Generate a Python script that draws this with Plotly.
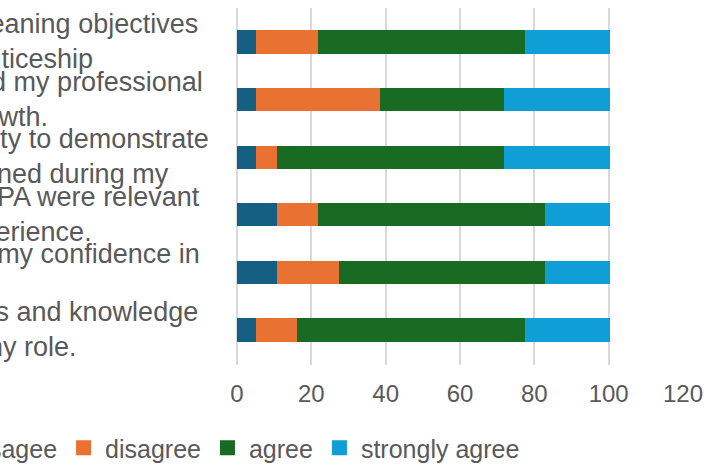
import plotly.graph_objects as go

# ---- data -------------------------------------------------------------
label_line1 = [
    "to reach my leaning objectives",
    "has supported my professional",
    "that opportunity to demonstrate",
    "tasks in the EPA were relevant",
    "helped boost my confidence in",
    "using my skills and knowledge",
]
label_line2 = [
    "for my apprenticeship",
    "and wider growth.",
    "core skills gained during my",
    "to my job experience.",
    "my abilities.",
    "each day in my role.",
]
categories = [a + " " + b for a, b in zip(label_line1, label_line2)]

series_names = ["strongly disagee", "disagree", "agree", "strongly agree"]
strongly_disagree = [5.56, 5.56, 5.56, 11.11, 11.11, 5.56]
disagree = [16.67, 33.33, 5.56, 11.11, 16.67, 11.11]
agree = [55.56, 33.33, 61.11, 61.11, 55.56, 61.11]
strongly_agree = [22.22, 27.78, 27.78, 16.67, 16.67, 22.22]
x_ticks = [0, 20, 40, 60, 80, 100, 120]

colors = ["#156082", "#E97132", "#196B24", "#0F9ED5"]

# ---- layout constants ---------------------------------------------------
HIDDEN = 340            # part of the (wider) chart that lies left of the window
W, H = 715 + HIDDEN, 472
ML, MR, MT, MB = 237 + HIDDEN, 32, 8, 107
PLOT_W = W - ML - MR
PLOT_H = H - MT - MB
LABEL_LEFT = -167 + HIDDEN   # left edge of the wrapped category labels (px)
LEGEND_LEFT = 172            # left edge of the legend (px)
LEGEND_MID = 448             # vertical centre of the legend (px)
GREY = "#595959"
FONT = "Liberation Sans, Arial, sans-serif"

fig = go.Figure()
for name, vals, col in zip(series_names,
                           [strongly_disagree, disagree, agree, strongly_agree],
                           colors):
    fig.add_trace(go.Bar(y=categories, x=vals, name=name, orientation="h",
                         marker=dict(color=col, line=dict(width=3, color=col)),
                         hoverinfo="x+name"))

annotations = []
lx = (LABEL_LEFT - ML) / PLOT_W
for cat, l1, l2 in zip(categories, label_line1, label_line2):
    for txt, shift in ((l1, 18), (l2, -17)):
        annotations.append(dict(
            x=lx, xref="paper", y=cat, yref="y", text=txt, showarrow=False,
            xanchor="left", yanchor="middle", align="left", yshift=shift,
            font=dict(size=27, color=GREY, family=FONT)))

fig.update_layout(
    width=W, height=H,
    margin=dict(l=ML, r=MR, t=MT, b=MB, autoexpand=False),
    barmode="stack", bargap=0.647,
    plot_bgcolor="white", paper_bgcolor="white",
    font=dict(family=FONT, color=GREY, size=24),
    xaxis=dict(range=[0, 120], tickvals=x_ticks, showgrid=True,
               gridcolor="#D9D9D9", gridwidth=2, zeroline=True,
               zerolinecolor="#D9D9D9", zerolinewidth=2, showline=False,
               ticks="", ticklabelstandoff=12,
               tickfont=dict(size=24, color=GREY)),
    yaxis=dict(autorange="reversed", showticklabels=False, showgrid=False,
               zeroline=False, showline=False, ticks=""),
    legend=dict(orientation="h", xref="paper", yref="paper",
                x=(LEGEND_LEFT - ML) / PLOT_W, xanchor="left",
                y=(H - MB - LEGEND_MID) / PLOT_H, yanchor="middle",
                itemwidth=33,
                font=dict(size=25, color=GREY), traceorder="normal"),
    annotations=annotations,
)

post = ("var gd=document.getElementById('{plot_id}');"
        "gd.style.marginLeft='-%dpx';"
        "document.body.style.margin='0';"
        "document.body.style.overflow='hidden';") % HIDDEN

fig.write_html("out.html", post_script=post, config={"displayModeBar": False})
